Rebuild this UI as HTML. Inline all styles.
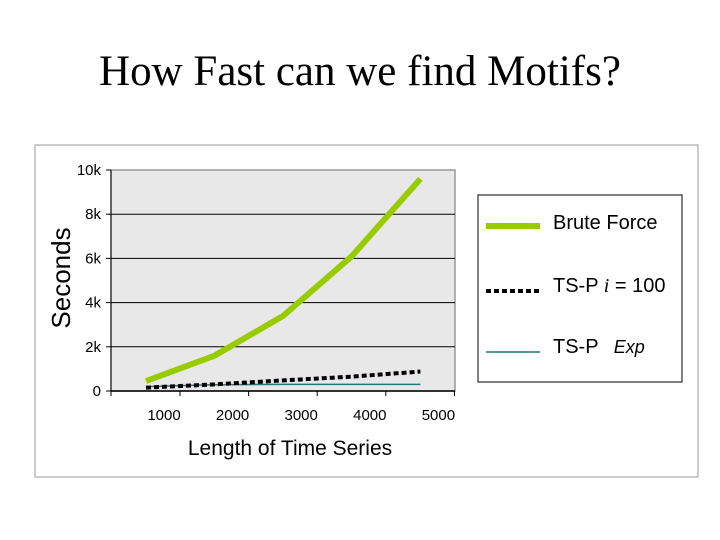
<!DOCTYPE html>
<html><head><meta charset="utf-8"><style>
body{margin:0;background:#fff;}
svg{display:block;}
text{font-family:"Liberation Sans",sans-serif;}
</style></head><body>
<svg width="720" height="540">
<text x="360" y="85" text-anchor="middle" style="font-family:'Liberation Serif',serif;font-size:43px">How Fast can we find Motifs?</text>
<rect x="35" y="145" width="663" height="332" fill="#fff" stroke="#999" stroke-width="1"/>
<rect x="111" y="170" width="344" height="221" fill="#e8e8e8" stroke="#999" stroke-width="1.5"/>
<g id="grid"></g><g id="axes"></g><g id="series"></g>
<text transform="translate(70,278) rotate(-90)" text-anchor="middle" font-size="26">Seconds</text>
<text x="290" y="455" text-anchor="middle" font-size="21">Length of Time Series</text>
<g>
<rect x="478" y="195" width="204" height="187" fill="#fff" stroke="#000" stroke-width="1"/>
<line x1="486" y1="226" x2="540" y2="226" stroke="#99cc00" stroke-width="6"/>
<text x="553" y="229" font-size="20">Brute Force</text>
<line x1="486" y1="291" x2="540" y2="291" stroke="#000" stroke-width="4" stroke-dasharray="5,3"/>
<text x="553" y="292" font-size="20">TS-P <tspan font-style="italic" style="font-family:'Liberation Serif',serif">i</tspan> = 100</text>
<line x1="486" y1="352" x2="540" y2="352" stroke="#227777" stroke-width="1.5"/>
<text x="553" y="353" font-size="20">TS-P <tspan dx="10" font-style="italic" font-size="18">Exp</tspan></text>
</g>
</svg>
<script>
const categories=[1000,2000,3000,4000,5000];
const bruteForce=[450,1600,3400,6100,9600];
const tspI100=[150,300,480,650,880];
const tspExp=[200,280,300,300,300];
const yTicks=[0,2000,4000,6000,8000,10000];
const yTickLabels=["0","2k","4k","6k","8k","10k"];
const xTickLabels=["1000","2000","3000","4000","5000"];
const NS="http://www.w3.org/2000/svg";
const x=v=>146+(v-1000)*0.0686;
const y=v=>391-v*0.0221;
function mk(tag,attrs,parent,txt){const e=document.createElementNS(NS,tag);for(const k in attrs)e.setAttribute(k,attrs[k]);if(txt!==undefined)e.textContent=txt;document.getElementById(parent).appendChild(e);return e;}
yTicks.forEach((t,i)=>{
  if(t>0&&t<10000){const g=mk('line',{x1:111,x2:455,y1:y(t),y2:y(t),stroke:'#000','stroke-width':1},'grid');
  
  }
  const tk=mk('line',{x1:106,x2:111,y1:y(t),y2:y(t),stroke:'#000'},'axes');
  
  
  const l=mk('text',{x:101,y:y(t)+5,'text-anchor':'end','font-size':15},'axes',yTickLabels[i]);
  
  
});
mk('line',{x1:111,x2:111,y1:170,y2:391,stroke:'#000'},'axes');
mk('line',{x1:111,x2:455,y1:391,y2:391,stroke:'#000','stroke-width':1.5},'axes');
categories.forEach((c,i)=>{
  const tx=x(c)+34;
  const tk=mk('line',{x1:tx,x2:tx,y1:391,y2:396,stroke:'#000'},'axes');
  
  
  const l=mk('text',{x:x(c)+18,y:420,'text-anchor':'middle','font-size':15},'axes',xTickLabels[i]);
  
  
});
mk('line',{x1:111,x2:111,y1:391,y2:396,stroke:'#000'},'axes');
function series(vals,stroke,w,dash,name){
  const p=mk('polyline',{points:categories.map((c,i)=>x(c)+','+y(vals[i])).join(' '),fill:'none',stroke:stroke,'stroke-width':w},'series');
  if(dash)p.setAttribute('stroke-dasharray',dash);
  
  
}
series(tspExp,'#227777',1.5,null,'line-tsp-exp');
series(tspI100,'#000',4,'5,3','line-tsp-i100');
series(bruteForce,'#99cc00',6,null,'line-brute-force');
</script>
</body></html>
